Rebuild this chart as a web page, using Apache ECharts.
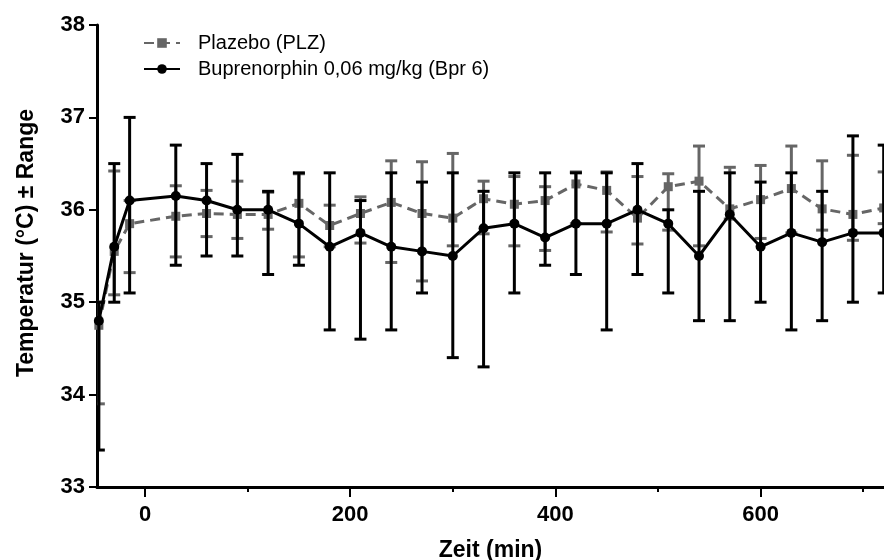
<!DOCTYPE html>
<html>
<head>
<meta charset="utf-8">
<script src="https://cdn.jsdelivr.net/npm/echarts@6/dist/echarts.min.js"></script>
<style>
  html, body { margin: 0; padding: 0; background: #fff; }
  #chart { width: 884px; height: 560px; }
</style>
</head>
<body>
<div id="chart"></div>
<script>
// Zeitpunkte (min)
const zeit = [-45, -30, -15, 30, 60, 90, 120, 150, 180, 210, 240, 270, 300, 330, 360,
              390, 420, 450, 480, 510, 540, 570, 600, 630, 660, 690, 720];

// Plazebo (PLZ): Mittelwert, Minimum, Maximum
const plzMittel = [34.75, 35.55, 35.85, 35.93, 35.96, 35.95, 35.95, 36.07, 35.83, 35.96, 36.08, 35.96, 35.91, 36.12,
                   36.06, 36.10, 36.28, 36.21, 35.91, 36.25, 36.31, 36.01, 36.11, 36.23, 36.01, 35.95, 36.02];
const plzMin = [33.90, 35.08, 35.32, 35.49, 35.71, 35.69, 35.79, 35.49, 35.60, 35.64, 35.43, 35.23, 35.61, 35.74,
                35.61, 35.56, 35.85, 35.76, 35.63, 35.78, 35.61, 35.90, 35.69, 35.75, 35.78, 35.67, 35.85];
const plzMax = [35.00, 36.42, 36.10, 36.26, 36.21, 36.31, 36.19, 36.39, 36.05, 36.14, 36.53, 36.52, 36.61, 36.31,
                36.36, 36.25, 36.41, 36.41, 36.36, 36.39, 36.69, 36.46, 36.48, 36.69, 36.53, 36.59, 36.41];

// Buprenorphin 0,06 mg/kg (Bpr 6)
const bprMittel = [34.80, 35.60, 36.10, 36.15, 36.10, 36.00, 36.00, 35.85, 35.60, 35.75, 35.60, 35.55, 35.50, 35.80,
                   35.85, 35.70, 35.85, 35.85, 36.00, 35.85, 35.50, 35.95, 35.60, 35.75, 35.65, 35.75, 35.75];
const bprMin = [33.40, 35.00, 35.10, 35.40, 35.50, 35.50, 35.30, 35.40, 34.70, 34.60, 34.70, 35.10, 34.40, 34.30,
                35.10, 35.40, 35.30, 34.70, 35.30, 35.10, 34.80, 34.80, 35.00, 34.70, 34.80, 35.00, 35.10];
const bprMax = [35.00, 36.50, 37.00, 36.70, 36.50, 36.60, 36.20, 36.40, 36.40, 36.10, 36.40, 36.30, 36.40, 36.20,
                36.40, 36.40, 36.40, 36.40, 36.50, 36.00, 36.20, 36.40, 36.30, 36.40, 36.20, 36.80, 36.70];

// Achsenbeschriftung
const xLabels = [0, 200, 400, 600];
const xMinorTicks = [100, 300, 500, 700];

const grau = '#666666';
const schwarz = '#000000';
const schrift = '"Liberation Sans", Arial, Helvetica, sans-serif';

const myChart = echarts.init(document.getElementById('chart'));

function fehlerbalken(farbe, breite) {
    return function (params, api) {
        const x = api.value(0);
        const oben = api.coord([x, api.value(2)]);
        const unten = api.coord([x, api.value(1)]);
        const halb = 6;
        const stil = { stroke: farbe, lineWidth: breite };
        return {
            type: 'group',
            children: [
                { type: 'line', shape: { x1: oben[0], y1: oben[1], x2: unten[0], y2: unten[1] }, style: stil },
                { type: 'line', shape: { x1: oben[0] - halb, y1: oben[1], x2: oben[0] + halb, y2: oben[1] }, style: stil },
                { type: 'line', shape: { x1: unten[0] - halb, y1: unten[1], x2: unten[0] + halb, y2: unten[1] }, style: stil }
            ]
        };
    };
}

const option = {
    animation: false,
    textStyle: { fontFamily: schrift },
    grid: { left: 97, right: 0, top: 25, bottom: 73, outerBoundsMode: 'none', containLabel: false },
    legend: {
        orient: 'vertical',
        left: 138,
        top: 28,
        itemWidth: 36,
        itemHeight: 12,
        itemGap: 6,
        textStyle: { fontFamily: schrift, fontSize: 20, color: '#000', padding: [0, 0, 0, 13] },
        data: ['Plazebo (PLZ)', 'Buprenorphin 0,06 mg/kg (Bpr 6)']
    },
    xAxis: [{
        type: 'value',
        min: -46.8,
        max: 720.3,
        name: 'Zeit (min)',
        nameLocation: 'middle',
        nameGap: 52,
        nameTextStyle: { fontFamily: schrift, fontSize: 23, fontWeight: 'bold', color: '#000' },
        axisLine: { onZero: false, lineStyle: { color: '#000', width: 3 } },
        axisTick: { customValues: xLabels, length: 10, lineStyle: { color: '#000', width: 2 } },
        axisLabel: { customValues: xLabels, margin: 17, fontFamily: schrift, fontSize: 22, fontWeight: 'bold', color: '#000' },
        splitLine: { show: false }
    }, {
        type: 'value',
        position: 'bottom',
        min: -46.8,
        max: 720.3,
        axisLine: { show: false, onZero: false },
        axisTick: { customValues: xMinorTicks, length: 5, lineStyle: { color: '#000', width: 2 } },
        axisLabel: { show: false },
        splitLine: { show: false }
    }],
    yAxis: {
        type: 'value',
        min: 33,
        max: 38,
        interval: 1,
        axisLine: { show: true, onZero: false, lineStyle: { color: '#000', width: 3 } },
        axisTick: { show: true, length: 8, lineStyle: { color: '#000', width: 2 } },
        axisLabel: { margin: 12, fontFamily: schrift, fontSize: 22, fontWeight: 'bold', color: '#000' },
        splitLine: { show: false }
    },
    graphic: [{
        type: 'text',
        x: 27,
        y: 243,
        rotation: Math.PI / 2,
        style: {
            text: 'Temperatur (°C) ± Range',
            font: 'bold 23px ' + schrift,
            fill: '#000',
            align: 'center',
            verticalAlign: 'middle'
        }
    }],
    series: [{
        name: 'PLZ Range',
        type: 'custom',
        clip: true,
        z: 1,
        renderItem: fehlerbalken(grau, 3),
        data: zeit.map((t, i) => [t, plzMin[i], plzMax[i]])
    }, {
        name: 'Plazebo (PLZ)',
        type: 'line',
        z: 2,
        symbol: 'rect',
        symbolSize: 9,
        itemStyle: { color: grau },
        lineStyle: { color: grau, width: 3, type: [10, 6] },
        data: zeit.map((t, i) => [t, plzMittel[i]])
    }, {
        name: 'Bpr 6 Range',
        type: 'custom',
        clip: true,
        z: 3,
        renderItem: fehlerbalken(schwarz, 3),
        data: zeit.map((t, i) => [t, bprMin[i], bprMax[i]])
    }, {
        name: 'Buprenorphin 0,06 mg/kg (Bpr 6)',
        type: 'line',
        z: 4,
        symbol: 'circle',
        symbolSize: 10,
        itemStyle: { color: schwarz },
        lineStyle: { color: schwarz, width: 3 },
        data: zeit.map((t, i) => [t, bprMittel[i]])
    }]
};

myChart.setOption(option);
</script>
</body>
</html>
